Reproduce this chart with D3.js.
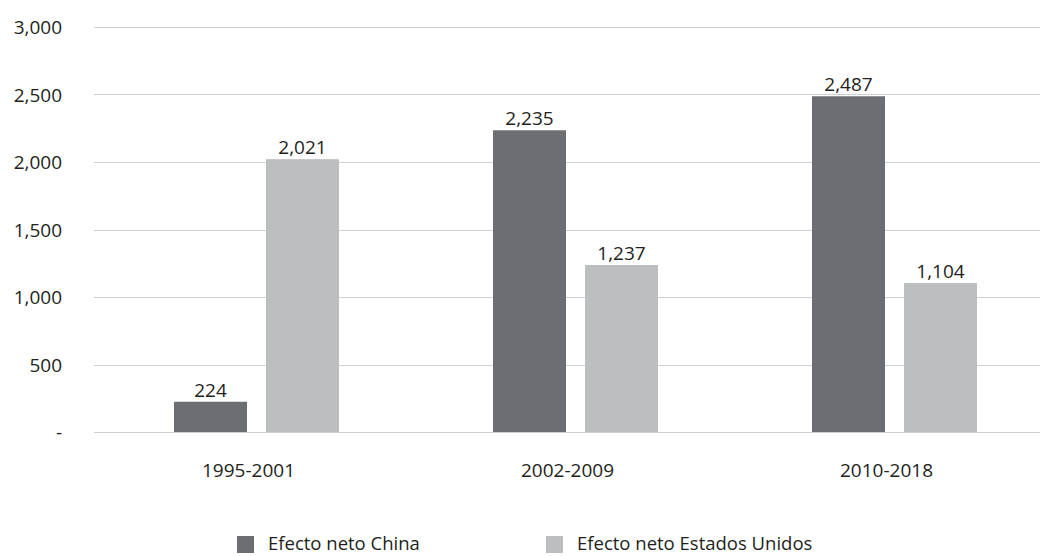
<!DOCTYPE html>
<html>
<head>
<meta charset="utf-8">
<script src="https://cdn.jsdelivr.net/npm/d3@7"></script>
<style>
body { margin: 0; background: #fff; }
text { font-family: "Open Sans", "Noto Sans", sans-serif; fill: #231f20; }
</style>
</head>
<body>
<div id="chart"></div>
<script>
var periods = ["1995-2001", "2002-2009", "2010-2018"];
var seriesNames = ["Efecto neto China", "Efecto neto Estados Unidos"];
var china = [224, 2235, 2487];
var usa = [2021, 1237, 1104];
var yTicks = [0, 500, 1000, 1500, 2000, 2500, 3000];
var colors = ["#6d6e71", "#bcbec0"];

var width = 1042, height = 556;
var svg = d3.select("#chart").append("svg").attr("width", width).attr("height", height);

var y = d3.scaleLinear().domain([0, 3000]).range([432, 27]);
var x = d3.scaleBand().domain(periods).range([89, 1046]);
var xs = d3.scaleBand().domain([0, 1]).range([85, 250]).paddingInner(0.2065);

// grid lines
svg.append("g").selectAll("line").data(yTicks).enter().append("line")
  .attr("x1", 94).attr("x2", 1040)
  .attr("y1", function(d){ return Math.round(y(d)) + 0.5; })
  .attr("y2", function(d){ return Math.round(y(d)) + 0.5; })
  .attr("stroke", "#d0d0d0").attr("stroke-width", 1.2);

// y labels
svg.append("g").selectAll("text").data(yTicks).enter().append("text")
  .attr("x", 62).attr("y", function(d){ return y(d) + 7; })
  .attr("text-anchor", "end").attr("font-size", 19)
  .text(function(d){ return d === 0 ? "-" : d3.format(",")(d); });

var rows = periods.map(function(p, i){ return {p: p, v: [china[i], usa[i]]}; });

var groups = svg.append("g").selectAll("g").data(rows).enter().append("g")
  .attr("transform", function(d){ return "translate(" + x(d.p) + ",0)"; });

groups.selectAll("rect").data(function(d){ return d.v; }).enter().append("rect")
  .attr("x", function(d, i){ return xs(i); })
  .attr("width", xs.bandwidth())
  .attr("y", function(d){ return y(d); })
  .attr("height", function(d){ return y(0) - y(d); })
  .attr("fill", function(d, i){ return colors[i]; });

groups.selectAll("text.val").data(function(d){ return d.v; }).enter().append("text")
  .attr("class", "val")
  .attr("x", function(d, i){ return xs(i) + xs.bandwidth() / 2; })
  .attr("y", function(d){ return y(d) - 5; })
  .attr("text-anchor", "middle").attr("font-size", 19)
  .text(function(d){ return d3.format(",")(d); });

// category labels
svg.append("g").selectAll("text").data(periods).enter().append("text")
  .attr("x", function(d){ return x(d) + x.bandwidth() / 2; })
  .attr("y", 477).attr("text-anchor", "middle").attr("font-size", 19)
  .text(function(d){ return d; });

// legend
var legX = [237, 546];
var leg = svg.append("g").selectAll("g").data(seriesNames).enter().append("g")
  .attr("transform", function(d, i){ return "translate(" + legX[i] + ",536)"; });
leg.append("rect").attr("width", 17).attr("height", 17)
  .attr("fill", function(d, i){ return colors[i]; });
leg.append("text").attr("x", 31).attr("y", 14).attr("font-size", 18.5)
  .text(function(d){ return d; });
</script>
</body>
</html>
